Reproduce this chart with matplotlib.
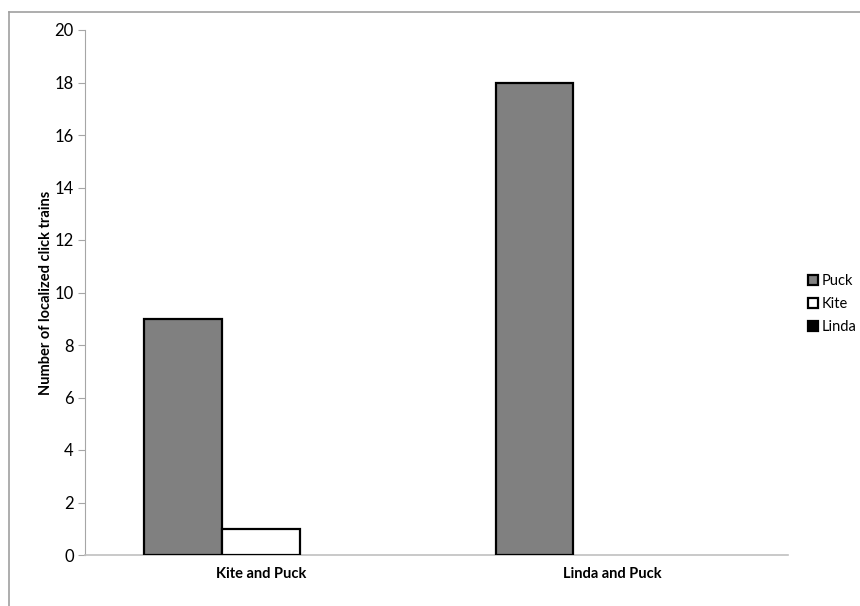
import matplotlib.pyplot as plt
import numpy as np
from matplotlib.lines import Line2D
from matplotlib.patches import Patch

categories = ["Kite and Puck", "Linda and Puck"]
series = ["Puck", "Kite", "Linda"]
puck = [9, 18]
kite = [1, 0]
linda = [0, 0]
colors = ["#808080", "#ffffff", "#000000"]

plt.rcParams["font.family"] = ["Lato", "DejaVu Sans"]

fig = plt.figure(figsize=(8.6, 6.06), dpi=100)
ax = fig.add_axes([85 / 860, 51 / 606, 703 / 860, 525 / 606])

x = np.arange(len(categories))
w = 0.2205
for i, (vals, c) in enumerate(zip([puck, kite, linda], colors)):
    # zero-height bars show no outline in the original
    lw = [1.6 if v > 0 else 0 for v in vals]
    ax.bar(x + (i - 1) * w, vals, width=w, color=c, edgecolor="black",
           linewidth=lw, label=series[i], zorder=3)

ax.set_xlim(-0.5, 1.5)
ax.set_ylim(0, 20)
ax.set_yticks(range(0, 21, 2))
ax.set_xticks(x)
ax.set_xticklabels(categories, fontweight="bold", fontsize=10.5)
ax.tick_params(axis="x", length=0, pad=9)
ax.tick_params(axis="y", length=5, color="#a6a6a6", labelsize=12, pad=3)
for s in ["top", "right"]:
    ax.spines[s].set_visible(False)
ax.spines["left"].set_color("#a6a6a6")
ax.spines["bottom"].set_color("#c0c0c0")
ax.spines["bottom"].set_linewidth(1.2)
ax.set_ylabel("Number of localized click trains", fontweight="bold", fontsize=10.5, labelpad=1)

handles = [Patch(facecolor=c, edgecolor="black", linewidth=1.6) for c in colors]
fig.legend(handles, series, loc="center left", bbox_to_anchor=(795 / 860, 1 - 304 / 606),
           frameon=False, fontsize=10.5, handlelength=0.7, handleheight=0.7,
           handletextpad=0.25, labelspacing=0.6)

# outer chart border (top and left visible)
fig.add_artist(Line2D([9 / 860, 1], [1 - 12 / 606, 1 - 12 / 606], color="#a0a0a0", linewidth=1.2))
fig.add_artist(Line2D([9 / 860, 9 / 860], [0, 1 - 12 / 606], color="#a0a0a0", linewidth=1.2))

plt.savefig("out.png", dpi=100)
